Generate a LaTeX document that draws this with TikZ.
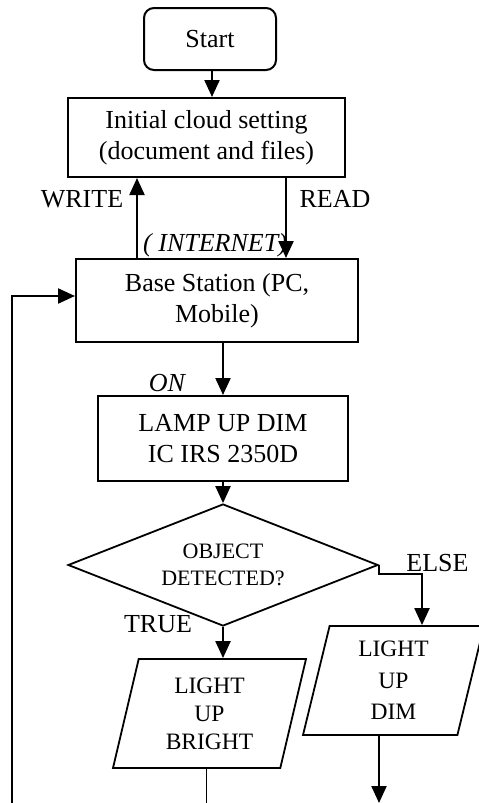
\documentclass[tikz,border=0pt]{standalone}
\usepackage{fontspec}
\setmainfont{Liberation Serif}
\usetikzlibrary{arrows.meta,shapes.geometric}
\begin{document}
\begin{tikzpicture}[x=1pt,y=-1pt,
  every node/.style={inner sep=0pt},
  procbox/.style={draw, line width=2pt, align=center, font=\fontsize{26}{31}\selectfont},
  decbox/.style={draw, diamond, aspect=2.5, line width=1.8pt, align=center, minimum width=310pt, minimum height=122pt, font=\fontsize{22}{26.5}\selectfont},
  iobox/.style={draw, trapezium, trapezium stretches body, line width=1.8pt, align=center, minimum height=109pt},
  lbl/.style={font=\fontsize{26}{31}\selectfont},
  arr/.style={line width=2.2pt, -{Triangle[length=17pt,width=15pt]}},
  plain/.style={line width=1pt}
]
\useasboundingbox (0,0) rectangle (479,803);

\node[procbox, rounded corners=10pt, minimum width=132pt, minimum height=62pt] (start) at (210,39) {Start};
\node[procbox, minimum width=277pt, minimum height=79pt] (init) at (206.5,137.5) {Initial cloud setting\\(document and files)};
\node[procbox, minimum width=282pt, minimum height=83pt] (base) at (217,300.5) {Base Station (PC,\\Mobile)};
\node[procbox, minimum width=250pt, minimum height=85pt] (lamp) at (223,438.5) {LAMP UP DIM\\IC IRS 2350D};
\node[decbox] (dia) at (223,565) {OBJECT\\DETECTED?};
\node[iobox, trapezium left angle=70.3, trapezium right angle=109.7, minimum width=193pt, font=\fontsize{23.5}{28}\selectfont] (p1) at (209.5,713.5) {LIGHT\\UP\\BRIGHT};
\node[iobox, trapezium left angle=71.3, trapezium right angle=108.7, minimum width=181pt, font=\fontsize{23.5}{31.5}\selectfont] (p2) at (393.5,680.5) {LIGHT\\UP\\DIM};

\node[lbl] (write) at (82,199) {WRITE};
\node[lbl] (read) at (335,199) {READ};
\node[lbl, anchor=west] (inet) at (143,245) {\itshape( INTERNET)};
\node[lbl] (on) at (167,383) {\itshape ON};
\node[lbl] (true) at (158,624.5) {TRUE};
\node[lbl] (else) at (437.5,563.5) {ELSE};

\coordinate (e1) at (206,803);
\coordinate (e2) at (379,803);
\coordinate (fb) at (12,803);

\draw[arr] ([xshift=2pt]start.south) -- ([xshift=2pt]start.south |- init.north);
\draw[arr] ([xshift=62pt]base.north west) -- ([xshift=62pt]base.north west |- init.south);
\draw[arr] ([xshift=219pt]init.south west) -- ([xshift=219pt]init.south west |- base.north);
\draw[arr] (base.south -| lamp.north) -- (lamp.north);
\draw[arr] (lamp.south) -- (dia.north);
\draw[arr] (dia.south) -- (dia.south |- p1.north);
\draw[arr] (dia.east) -- ([yshift=-9pt]dia.east) -| ([xshift=28.5pt]p2.north);
\draw[arr] (e2 |- p2.south) -- (e2);
\draw[plain] (e1 |- p1.south) -- (e1);
\draw[arr] (fb) |- ([yshift=4.5pt]base.west);
\end{tikzpicture}
\end{document}
